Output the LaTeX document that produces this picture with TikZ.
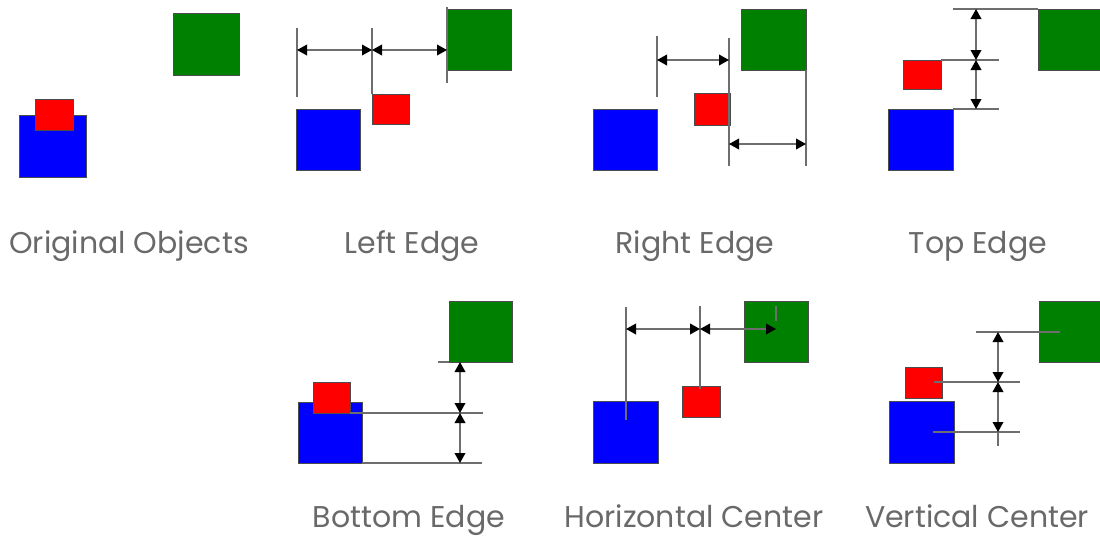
\documentclass[tikz,border=0pt]{standalone}
\usepackage{fontspec}
\setmainfont{Poppins}
\usetikzlibrary{arrows.meta,fit}

\definecolor{objblue}{RGB}{0,0,255}
\definecolor{objred}{RGB}{255,0,0}
\definecolor{objgreen}{RGB}{0,128,0}
\definecolor{dimgray}{RGB}{110,110,110}
\definecolor{labelgray}{RGB}{105,105,105}

\tikzset{
  obj/.style={draw=black!70,line width=0.5pt,inner sep=0pt,outer sep=0pt},
  bluebox/.style={obj,fill=objblue},
  redbox/.style={obj,fill=objred},
  greenbox/.style={obj,fill=objgreen},
  extline/.style={draw=dimgray,line width=1.1pt},
  dimarrow/.style={draw=dimgray,line width=1.1pt,
    {Triangle[length=7.5pt,width=8pt,color=black]}-{Triangle[length=7.5pt,width=8pt,color=black]}},
  caption/.style={anchor=base,text=labelgray,font=\fontsize{22.5}{22.5}\selectfont}
}

\begin{document}
\begin{tikzpicture}[x=0.75pt,y=-0.75pt]
  \useasboundingbox (0,0) rectangle (1100,536);

  % Original Objects
  \node (g1) [greenbox,fit={(173,13) (239,75)}] {};
  \node (b1) [bluebox,fit={(19,115) (86,177)}] {};
  \node (r1) [redbox,fit={(35,99) (73,130)}] {};
  \node (t1) [caption] at (129,253) {Original Objects};

  % Left Edge
  \node (g2) [greenbox,fit={(447,9) (511,70)}] {};
  \node (b2) [bluebox,fit={(296,109) (360,170)}] {};
  \node (r2) [redbox,fit={(372,94) (409,124)}] {};
  \draw[extline] (297,28) -- (297,97);
  \draw[extline] (372,28) -- (r2.north west);
  \draw[extline] (447,7) -- (447,83);
  \coordinate (l2a) at (297,50);
  \coordinate (l2b) at (372,50);
  \coordinate (l2c) at (447,50);
  \draw[dimarrow] (l2a) -- (l2b);
  \draw[dimarrow] (l2b) -- (l2c);
  \node (t2) [caption] at (412,253) {Left Edge};

  % Right Edge
  \node (g3) [greenbox,fit={(741,9) (806,70)}] {};
  \node (b3) [bluebox,fit={(593,109) (657,170)}] {};
  \node (r3) [redbox,fit={(694,93) (730,125)}] {};
  \draw[extline] (657,36) -- (657,97);
  \draw[extline] (729,38) -- (729,166);
  \draw[extline] (g3.south east) -- (806,166);
  \coordinate (l3a) at (657,60);
  \coordinate (l3b) at (729,60);
  \coordinate (l3c) at (729,144);
  \coordinate (l3d) at (806,144);
  \draw[dimarrow] (l3a) -- (l3b);
  \draw[dimarrow] (l3c) -- (l3d);
  \node (t3) [caption] at (695,253) {Right Edge};

  % Top Edge
  \node (g4) [greenbox,fit={(1038,9) (1104,70)}] {};
  \node (r4) [redbox,fit={(903,60) (941,89)}] {};
  \node (b4) [bluebox,fit={(888,109) (953,170)}] {};
  \draw[extline] (953,9) -- (g4.north west);
  \draw[extline] (r4.north east) -- (999,60);
  \draw[extline] (b4.north east) -- (999,109);
  \coordinate (l4a) at (976,9);
  \coordinate (l4b) at (976,60);
  \coordinate (l4c) at (976,109);
  \draw[dimarrow] (l4a) -- (l4b);
  \draw[dimarrow] (l4b) -- (l4c);
  \node (t4) [caption] at (978,253) {Top Edge};

  % Bottom Edge
  \node (g5) [greenbox,fit={(449,301) (512,362)}] {};
  \node (b5) [bluebox,fit={(298,402) (362,463)}] {};
  \node (r5) [redbox,fit={(313,382) (350,413)}] {};
  \draw[extline] (438,362) -- (g5.south west);
  \draw[extline] (r5.south east) -- (483,413);
  \draw[extline] (b5.south east) -- (482,463);
  \coordinate (l5a) at (460,362);
  \coordinate (l5b) at (460,413);
  \coordinate (l5c) at (460,463);
  \draw[dimarrow] (l5a) -- (l5b);
  \draw[dimarrow] (l5b) -- (l5c);
  \node (t5) [caption] at (409,527) {Bottom Edge};

  % Horizontal Center
  \node (g6) [greenbox,fit={(744,301) (808,362)}] {};
  \node (b6) [bluebox,fit={(593,401) (658,463)}] {};
  \node (r6) [redbox,fit={(682,386) (720,417)}] {};
  \draw[extline] (626,307) -- (626,420);
  \draw[extline] (700,306) -- (700,389);
  \draw[extline] (776,306) -- (776,321);
  \coordinate (l6a) at (626,329);
  \coordinate (l6b) at (700,329);
  \coordinate (l6c) at (776,329);
  \draw[dimarrow] (l6a) -- (l6b);
  \draw[dimarrow] (l6b) -- (l6c);
  \node (t6) [caption] at (694,527) {Horizontal Center};

  % Vertical Center
  \node (g7) [greenbox,fit={(1039,301) (1104,362)}] {};
  \node (r7) [redbox,fit={(905,367) (942,398)}] {};
  \node (b7) [bluebox,fit={(889,401) (954,463)}] {};
  \draw[extline] (976,332) -- (1060,332);
  \draw[extline] (934,382) -- (1020,382);
  \draw[extline] (933,432) -- (1020,432);
  \draw[extline] (998,432) -- (998,446);
  \coordinate (l7a) at (998,332);
  \coordinate (l7b) at (998,382);
  \coordinate (l7c) at (998,432);
  \draw[dimarrow] (l7a) -- (l7b);
  \draw[dimarrow] (l7b) -- (l7c);
  \node (t7) [caption] at (977,527) {Vertical Center};
\end{tikzpicture}
\end{document}
